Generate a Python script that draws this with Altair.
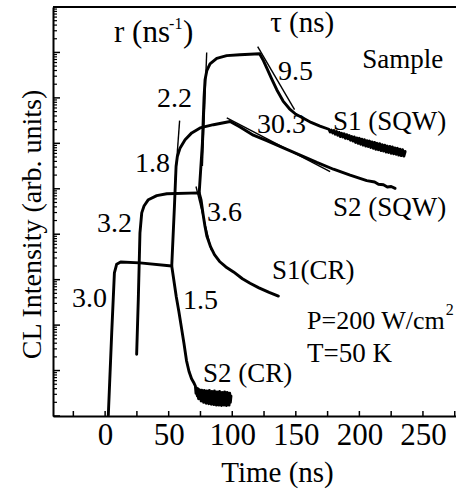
import altair as alt
import pandas as pd

# ---------------- data (time in ns, intensity as log10 decades) ----------------
s2cr_t = [2.5, 5.2, 7.3, 9.1, 12.2, 27.4, 52.4, 54.0, 56.0, 58.0, 60.0, 62.0, 64.0, 66.0, 68.0, 70.0,
          71.0, 71.5, 72.0, 72.5, 73.0, 73.5, 74.0, 74.5, 75.0, 75.5, 76.0, 76.5, 77.0, 77.5, 78.0,
          78.5, 79.0, 79.5, 80.0, 80.5, 81.0, 81.5, 82.0, 82.5, 83.0, 83.5, 84.0, 84.5, 85.0, 85.5,
          86.0, 86.5, 87.0, 87.5, 88.0, 88.5, 89.0, 89.5, 90.0, 90.5, 91.0, 91.5, 92.0, 92.5, 93.0,
          93.5, 94.0, 94.5, 95.0, 95.5, 96.0, 96.5, 97.0, 97.5, 98.0, 98.5, 99.0]
s2cr_v = [0.01, 1.84, 3.15, 3.34, 3.39, 3.37, 3.30, 3.00, 2.62, 2.30, 1.95, 1.60, 1.22, 0.98, 0.82, 0.72,
          0.66, 0.50, 0.62, 0.44, 0.60, 0.38, 0.58, 0.42, 0.55, 0.33, 0.57, 0.40, 0.52, 0.30, 0.56,
          0.36, 0.54, 0.28, 0.55, 0.40, 0.50, 0.27, 0.56, 0.34, 0.52, 0.26, 0.54, 0.38, 0.48, 0.25,
          0.55, 0.32, 0.50, 0.24, 0.53, 0.36, 0.47, 0.24, 0.54, 0.30, 0.50, 0.23, 0.52, 0.35, 0.46,
          0.24, 0.53, 0.29, 0.49, 0.23, 0.52, 0.33, 0.46, 0.24, 0.50, 0.30, 0.44]

s1cr_t = [24.8, 26.1, 27.4, 28.8, 30.6, 34.0, 40.6, 48.5, 74.0, 75.5, 77.0, 78.5, 80.0, 83.0, 86.0,
          90.0, 95.0, 101.0, 108.0, 114.0, 121.0, 129.0, 136.3]
s1cr_v = [1.36, 2.57, 4.03, 4.47, 4.62, 4.76, 4.85, 4.89, 4.91, 4.75, 4.45, 4.18, 3.96, 3.72, 3.55,
          3.40, 3.28, 3.17, 3.02, 2.92, 2.82, 2.72, 2.64]

s2sqw_t = [52.4, 54.5, 55.8, 56.8, 59.0, 62.9, 68.1, 74.7, 85.2, 98.3, 106.1, 116.6, 127.1, 140.2,
           153.4, 166.5, 179.6, 192.7, 205.8, 212.0, 215.0, 218.9, 222.0, 225.0, 228.1]
s2sqw_v = [3.30, 4.60, 5.49, 5.71, 5.90, 6.08, 6.23, 6.34, 6.41, 6.48, 6.36, 6.18, 6.06, 5.90,
           5.74, 5.58, 5.43, 5.30, 5.18, 5.15, 5.10, 5.09, 5.04, 5.05, 5.01]

s1sqw_t = [74.0, 76.5, 77.8, 78.6, 80.0, 82.5, 87.8, 95.6, 106.0, 121.5, 124.5, 127.1, 131.0, 135.0,
           140.0, 145.0, 150.0, 156.0, 162.0, 169.0,
           176, 177, 178, 179, 180, 181, 182, 183, 184, 185, 186, 187, 188, 189, 190, 191, 192,
           193, 194, 195, 196, 197, 198, 199, 200, 201, 202, 203, 204, 205, 206, 207, 208, 209,
           210, 211, 212, 213, 214, 215, 216, 217, 218, 219, 220, 221, 222, 223, 224, 225, 226,
           227, 228, 229, 230, 231, 232, 233, 234, 235, 236]
s1sqw_v = [4.91, 6.00, 7.00, 7.40, 7.60, 7.75, 7.87, 7.93, 7.95, 7.97, 7.82, 7.66, 7.42, 7.18,
           6.93, 6.76, 6.64, 6.55, 6.46, 6.38,
           6.31, 6.25, 6.29, 6.23, 6.28, 6.20, 6.26, 6.18, 6.24, 6.15, 6.22, 6.14, 6.21, 6.11,
           6.19, 6.10, 6.17, 6.07, 6.15, 6.05, 6.14, 6.02, 6.12, 6.00, 6.11, 5.98, 6.09, 5.96,
           6.08, 5.94, 6.06, 5.93, 6.05, 5.91, 6.03, 5.89, 6.02, 5.87, 6.00, 5.86, 5.99, 5.84,
           5.97, 5.83, 5.96, 5.81, 5.94, 5.80, 5.93, 5.78, 5.92, 5.77, 5.90, 5.76, 5.89, 5.74,
           5.87, 5.73, 5.86, 5.72, 5.82]

# thin fitted lines (start, end)
fit_names = ["2.2", "1.8", "9.5", "30.3", "3.6"]
fit_t0 = [79.9, 58.6, 120.0, 95.7, 71.5]
fit_v0 = [8.00, 6.50, 8.13, 6.56, 5.05]
fit_t1 = [76.5, 55.2, 149.0, 177.0, 83.5]
fit_v1 = [5.50, 5.20, 6.74, 5.38, 3.65]

# annotations
ann_text = ["r (ns", "-1", ")", "τ (ns)", "Sample", "9.5", "2.2", "30.3", "S1 (SQW)", "1.8",
            "S2 (SQW)", "3.6", "3.2", "S1(CR)", "3.0", "1.5", "P=200 W/cm", "2", "T=50 K", "S2 (CR)"]
ann_t = [7.0, 50.3, 61.2, 129.8, 202.2, 136.0, 40.8, 119.5, 179.3, 23.5,
         179.3, 80.2, -6.4, 131.3, -26.0, 61.3, 158.8, 268.0, 158.8, 77.0]
ann_v = [8.23, 8.52, 8.23, 8.45, 7.66, 7.40, 6.80, 6.23, 6.30, 5.36,
         4.41, 4.28, 4.04, 3.01, 2.39, 2.35, 1.91, 2.22, 1.19, 0.75]
ann_fs = [31, 16, 31, 29, 27, 28, 28, 28, 27, 28,
          27, 28, 28, 27, 28, 28, 26, 16, 27, 27]

x_major = [0, 50, 100, 150, 200, 250]
x_minor = [-25, 25, 75, 125, 175, 225, 275]
y_decades = list(range(10))
y_minor_mult = [2, 3, 4, 5, 6, 7, 8, 9]

# ---------------- build tables ----------------
rows = []
for name, ts, vs in [("S2 (CR)", s2cr_t, s2cr_v), ("S1 (CR)", s1cr_t, s1cr_v),
                     ("S2 (SQW)", s2sqw_t, s2sqw_v), ("S1 (SQW)", s1sqw_t, s1sqw_v)]:
    for i, (t, v) in enumerate(zip(ts, vs)):
        rows.append({"series": name, "i": i, "t": t, "I": 10 ** v})
curves = pd.DataFrame(rows)

fits = pd.DataFrame({"fit": fit_names, "t0": fit_t0, "t1": fit_t1,
                     "I0": [10 ** v for v in fit_v0], "I1": [10 ** v for v in fit_v1]})

ann = pd.DataFrame({"text": ann_text, "t": ann_t, "I": [10 ** v for v in ann_v], "fs": ann_fs})

xt_major = pd.DataFrame({"t": x_major})
xt_minor = pd.DataFrame({"t": x_minor})
yt_major = pd.DataFrame({"I": [10 ** k for k in y_decades]})
yt_minor = pd.DataFrame({"I": [m * 10 ** k for k in y_decades[:-1] for m in y_minor_mult]})

FONT = "Liberation Serif, Times New Roman, DejaVu Serif, serif"
W, H = 403, 409

xscale = alt.Scale(domain=[-41, 276], nice=False, zero=False)
yscale = alt.Scale(type="log", domain=[1, 1e9], nice=False)

x_axis = alt.Axis(values=x_major, ticks=False, tickSize=0, grid=False, domainColor="black",
                  domainWidth=2, labelFont=FONT, labelFontSize=31, labelColor="black",
                  labelBaseline="alphabetic", labelPadding=28, title="Time (ns)",
                  titleFont=FONT, titleFontSize=29, titleFontWeight="normal", titleColor="black",
                  titleX=224, titleY=65, titleAnchor="start", titleAlign="center",
                  titleBaseline="alphabetic", labelFlush=False)
y_axis = alt.Axis(labels=False, ticks=False, tickSize=0, grid=False, domainColor="black",
                  domainWidth=2, title="CL Intensity (arb. units)", titleFont=FONT,
                  titleFontSize=28, titleFontWeight="normal", titleColor="black",
                  titleX=-13, titleY=217, titleAngle=270, titleAlign="center",
                  titleBaseline="alphabetic")

base_lines = alt.Chart(curves).mark_line(color="black", strokeWidth=2.9, strokeJoin="round",
                                         strokeCap="round").encode(
    x=alt.X("t:Q", scale=xscale, axis=x_axis),
    y=alt.Y("I:Q", scale=yscale, axis=y_axis),
    detail="series:N",
    order="i:Q",
)

fit_lines = alt.Chart(fits).mark_rule(color="black", strokeWidth=1.4).encode(
    x="t0:Q", x2="t1:Q", y="I0:Q", y2="I1:Q")

texts = alt.Chart(ann).mark_text(align="left", baseline="alphabetic", font=FONT,
                                 color="black").encode(
    x="t:Q", y="I:Q", text="text:N", size=alt.Size("fs:Q", scale=None))

xtick_major = alt.Chart(xt_major).mark_rule(color="black", strokeWidth=1.5).encode(
    x="t:Q", y=alt.value(H), y2=alt.value(H - 5))
xtick_minor = alt.Chart(xt_minor).mark_rule(color="black", strokeWidth=1.5).encode(
    x="t:Q", y=alt.value(H), y2=alt.value(H - 5))
ytick_major = alt.Chart(yt_major).mark_rule(color="black", strokeWidth=1.5).encode(
    y="I:Q", x=alt.value(0), x2=alt.value(7))
ytick_minor = alt.Chart(yt_minor).mark_rule(color="black", strokeWidth=1.2).encode(
    y="I:Q", x=alt.value(0), x2=alt.value(4))
top_border = alt.Chart(xt_major).mark_rule(color="black", strokeWidth=2).encode(
    x=alt.value(0), x2=alt.value(W), y=alt.value(0))

chart = alt.layer(
    base_lines, fit_lines, texts, xtick_major, xtick_minor, ytick_major, ytick_minor, top_border
).properties(
    width=W, height=H,
    autosize=alt.AutoSizeParams(type="none"),
    padding={"left": 53, "top": 7, "right": 0, "bottom": 73},
    background="white",
).configure_view(stroke=None)

chart.save("out.html", embed_options={"renderer": "svg", "actions": False})
